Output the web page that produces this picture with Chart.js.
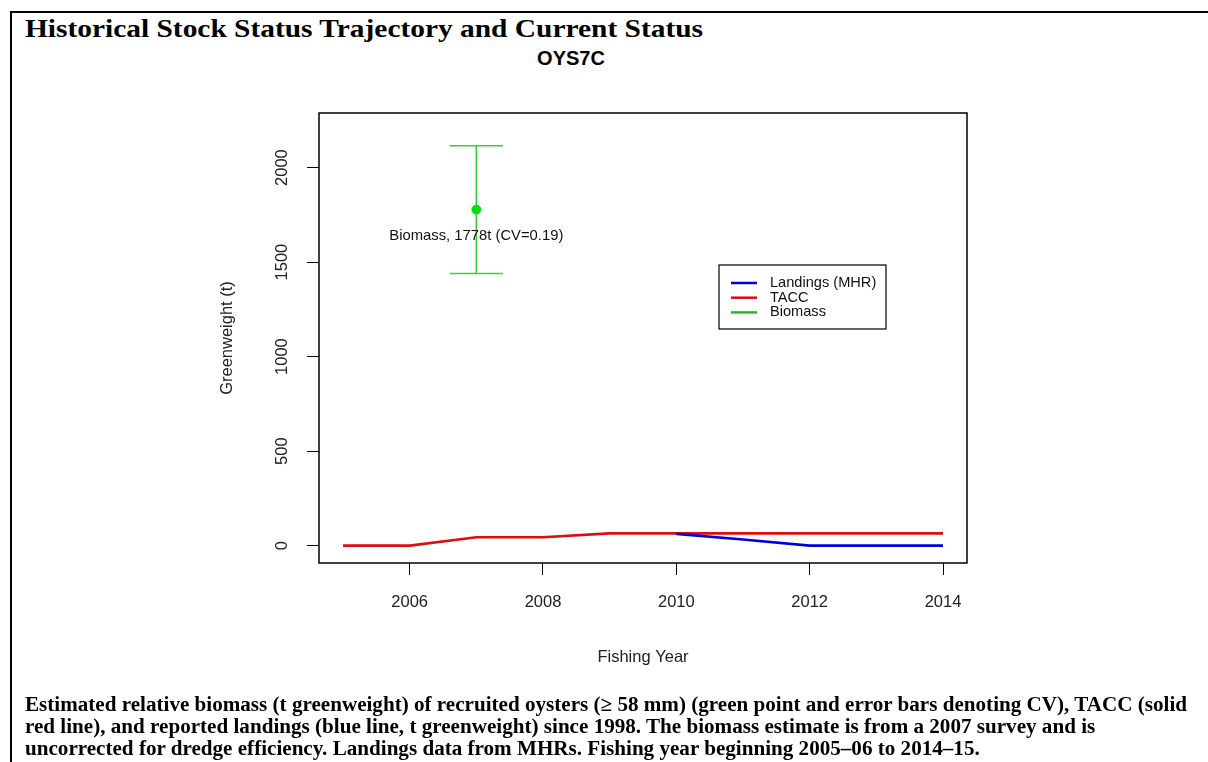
<!DOCTYPE html>
<html>
<head>
<meta charset="utf-8">
<title>OYS7C</title>
<script src="https://cdn.jsdelivr.net/npm/chart.js@4.4.1/dist/chart.umd.min.js"></script>
<style>
  html, body { margin: 0; padding: 0; background: #fff; }
  #page { position: relative; width: 1208px; height: 762px; overflow: hidden; background: #fff; }
  #frame { position: absolute; left: 10px; top: 11px; width: 1210px; height: 760px;
           border-top: 2px solid #000; border-left: 2px solid #000; box-sizing: border-box; }
  #heading { position: absolute; left: 25px; top: 15px; line-height: 28px; white-space: nowrap;
             font-family: "Liberation Serif", "Times New Roman", serif; font-weight: bold; font-size: 25px;
             color: #000; transform-origin: 0 0; }
  #plotTitle { position: absolute; left: 471px; width: 200px; top: 47px; text-align: center;
               font-family: "Liberation Sans", Arial, sans-serif; font-weight: bold; font-size: 20px; color: #000; }
  #caption { position: absolute; left: 25px; top: 693px;
             font-family: "Liberation Serif", "Times New Roman", serif; font-weight: bold; font-size: 20.5px;
             line-height: 22px; color: #000; }
  #caption .cl { white-space: nowrap; transform-origin: 0 0; width: max-content; }
  #chart { position: absolute; left: 0; top: 0; }
</style>
</head>
<body>
<div id="page">
  <div id="frame"></div>
  <div id="heading">Historical Stock Status Trajectory and Current Status</div>
  <div id="plotTitle">OYS7C</div>
  <canvas id="chart" width="1208" height="762"></canvas>
  <div id="caption">
    <div class="cl">Estimated relative biomass (t greenweight) of recruited oysters (≥ 58 mm) (green point and error bars denoting CV), TACC (solid</div>
    <div class="cl">red line), and reported landings (blue line, t greenweight) since 1998. The biomass estimate is from a 2007 survey and is</div>
    <div class="cl">uncorrected for dredge efficiency. Landings data from MHRs. Fishing year beginning 2005–06 to 2014–15.</div>
  </div>
</div>
<script>
// Fishing years (2005 = 2005-06 season)
const years = [2005, 2006, 2007, 2008, 2009, 2010, 2011, 2012, 2013, 2014];
// TACC (t greenweight)
const taccValues = [0, 0, 44, 44, 65, 65, 65, 65, 65, 65];
// Reported landings from MHRs (t greenweight)
const landingsValues = [null, null, null, null, null, 62, 32, 0, 0, 0];
// 2007 survey biomass estimate and its CV interval
const biomassYear = 2007;
const biomassValue = 1778;
const biomassCV = 0.19;
const biomassLow = 1440;
const biomassHigh = 2116;
// Axis ticks
const xTickValues = [2006, 2008, 2010, 2012, 2014];
const yTickValues = [0, 500, 1000, 1500, 2000];

const SANS = '"Liberation Sans", Arial, sans-serif';
const BLUE = '#0000dc';
const RED = '#dc0e0e';
const GREEN = '#35d335';
const POINT_GREEN = '#00e000';

const toPoints = vals => years.map((y, i) => ({ x: y, y: vals[i] }));

// Error bar for the survey estimate, drawn beneath the point
const errorBarPlugin = {
  id: 'errorBar',
  beforeDatasetsDraw(chart) {
    const { ctx, scales: { x, y } } = chart;
    const cx = x.getPixelForValue(biomassYear);
    const capL = x.getPixelForValue(biomassYear - 0.4);
    const capR = x.getPixelForValue(biomassYear + 0.4);
    const yTop = y.getPixelForValue(biomassHigh);
    const yBot = y.getPixelForValue(biomassLow);
    ctx.save();
    ctx.strokeStyle = GREEN;
    ctx.lineWidth = 1.6;
    ctx.beginPath();
    ctx.moveTo(cx, yTop); ctx.lineTo(cx, yBot);
    ctx.moveTo(capL, yTop); ctx.lineTo(capR, yTop);
    ctx.moveTo(capL, yBot); ctx.lineTo(capR, yBot);
    ctx.stroke();
    ctx.restore();
  },
  afterDatasetsDraw(chart) {
    const { ctx, scales: { x, y } } = chart;
    ctx.save();
    ctx.font = '14.8px ' + SANS;
    ctx.fillStyle = '#111';
    ctx.textAlign = 'center';
    ctx.textBaseline = 'middle';
    ctx.fillText('Biomass, ' + biomassValue + 't (CV=' + biomassCV + ')',
      x.getPixelForValue(biomassYear), y.getPixelForValue(biomassValue) + 26);
    ctx.restore();
  }
};

// Plot frame, rotated y tick labels and the boxed legend
const framePlugin = {
  id: 'frameAndLegend',
  afterDraw(chart) {
    const { ctx, chartArea: a, scales: { y } } = chart;
    ctx.save();
    ctx.strokeStyle = '#000';
    ctx.lineWidth = 1.5;
    ctx.strokeRect(a.left, a.top, a.right - a.left, a.bottom - a.top);

    ctx.fillStyle = '#222';
    ctx.font = '16.5px ' + SANS;
    ctx.textAlign = 'center';
    ctx.textBaseline = 'middle';
    y.ticks.forEach(t => {
      ctx.save();
      ctx.translate(a.left - 37, y.getPixelForValue(t.value));
      ctx.rotate(-Math.PI / 2);
      ctx.fillText(String(t.value), 0, 0);
      ctx.restore();
    });

    // legend
    const lx = a.left + 400, ly = 265, lw = 167, lh = 64;
    ctx.fillStyle = '#fff';
    ctx.fillRect(lx, ly, lw, lh);
    ctx.lineWidth = 1.2;
    ctx.strokeStyle = '#000';
    ctx.strokeRect(lx, ly, lw, lh);
    const items = [
      { label: chart.data.datasets[0].label, color: BLUE },
      { label: chart.data.datasets[1].label, color: RED },
      { label: chart.data.datasets[2].label, color: '#22bb22' }
    ];
    ctx.font = '14.6px ' + SANS;
    ctx.textAlign = 'left';
    items.forEach((it, i) => {
      const ry = ly + 18 + i * 14.7;
      ctx.strokeStyle = it.color;
      ctx.lineWidth = 2.5;
      ctx.beginPath();
      ctx.moveTo(lx + 12, ry); ctx.lineTo(lx + 38, ry);
      ctx.stroke();
      ctx.fillStyle = '#111';
      ctx.fillText(it.label, lx + 51, ry);
    });
    ctx.restore();
  }
};

new Chart(document.getElementById('chart'), {
  type: 'line',
  data: {
    datasets: [
      { label: 'Landings (MHR)', data: toPoints(landingsValues), borderColor: BLUE,
        borderWidth: 2.6, pointRadius: 0, spanGaps: false, tension: 0 },
      { label: 'TACC', data: toPoints(taccValues), borderColor: RED,
        borderWidth: 2.6, pointRadius: 0, tension: 0 },
      { label: 'Biomass', data: [{ x: biomassYear, y: biomassValue }], showLine: false,
        pointRadius: 4.5, pointStyle: 'circle', pointBackgroundColor: POINT_GREEN,
        pointBorderColor: POINT_GREEN, borderColor: POINT_GREEN }
    ]
  },
  options: {
    responsive: false,
    animation: false,
    events: [],
    layout: { padding: { left: 200, top: 113, right: 241, bottom: 89 } },
    plugins: { legend: { display: false }, tooltip: { enabled: false }, title: { display: false } },
    scales: {
      x: {
        type: 'linear', position: 'bottom', min: 2004.64, max: 2014.36,
        afterBuildTicks: s => { s.ticks = xTickValues.map(v => ({ value: v })); },
        afterFit: s => { s.height = 110; },
        grid: { display: true, drawOnChartArea: false, drawTicks: true, tickLength: 12, color: '#000', lineWidth: 1 },
        border: { display: false },
        ticks: { color: '#222', font: { family: SANS, size: 16.5 }, padding: 18, maxRotation: 0, autoSkip: false,
                 callback: v => String(v) },
        title: { display: true, text: 'Fishing Year', color: '#222', font: { family: SANS, size: 16.5 },
                 padding: { top: 0, bottom: 6 } }
      },
      y: {
        type: 'linear', position: 'left', min: -92, max: 2289,
        afterBuildTicks: s => { s.ticks = yTickValues.map(v => ({ value: v })); },
        afterFit: s => { s.width = 119; },
        grid: { display: true, drawOnChartArea: false, drawTicks: true, tickLength: 12, color: '#000', lineWidth: 1 },
        border: { display: false },
        ticks: { display: false },
        title: { display: true, text: 'Greenweight (t)', color: '#222', font: { family: SANS, size: 16.5 },
                 padding: { top: 18, bottom: 0 } }
      }
    }
  },
  plugins: [errorBarPlugin, framePlugin]
});

// Fit the bold serif text blocks to their measured widths
(function fitText() {
  const heading = document.getElementById('heading');
  const hw = heading.getBoundingClientRect().width;
  heading.style.transform = 'scaleX(' + (678 / hw) + ')';
  const lines = document.querySelectorAll('#caption .cl');
  const w0 = lines[0].getBoundingClientRect().width;
  const k = 1162 / w0;
  lines.forEach(l => { l.style.transform = 'scaleX(' + k + ')'; });
})();
</script>
</body>
</html>
